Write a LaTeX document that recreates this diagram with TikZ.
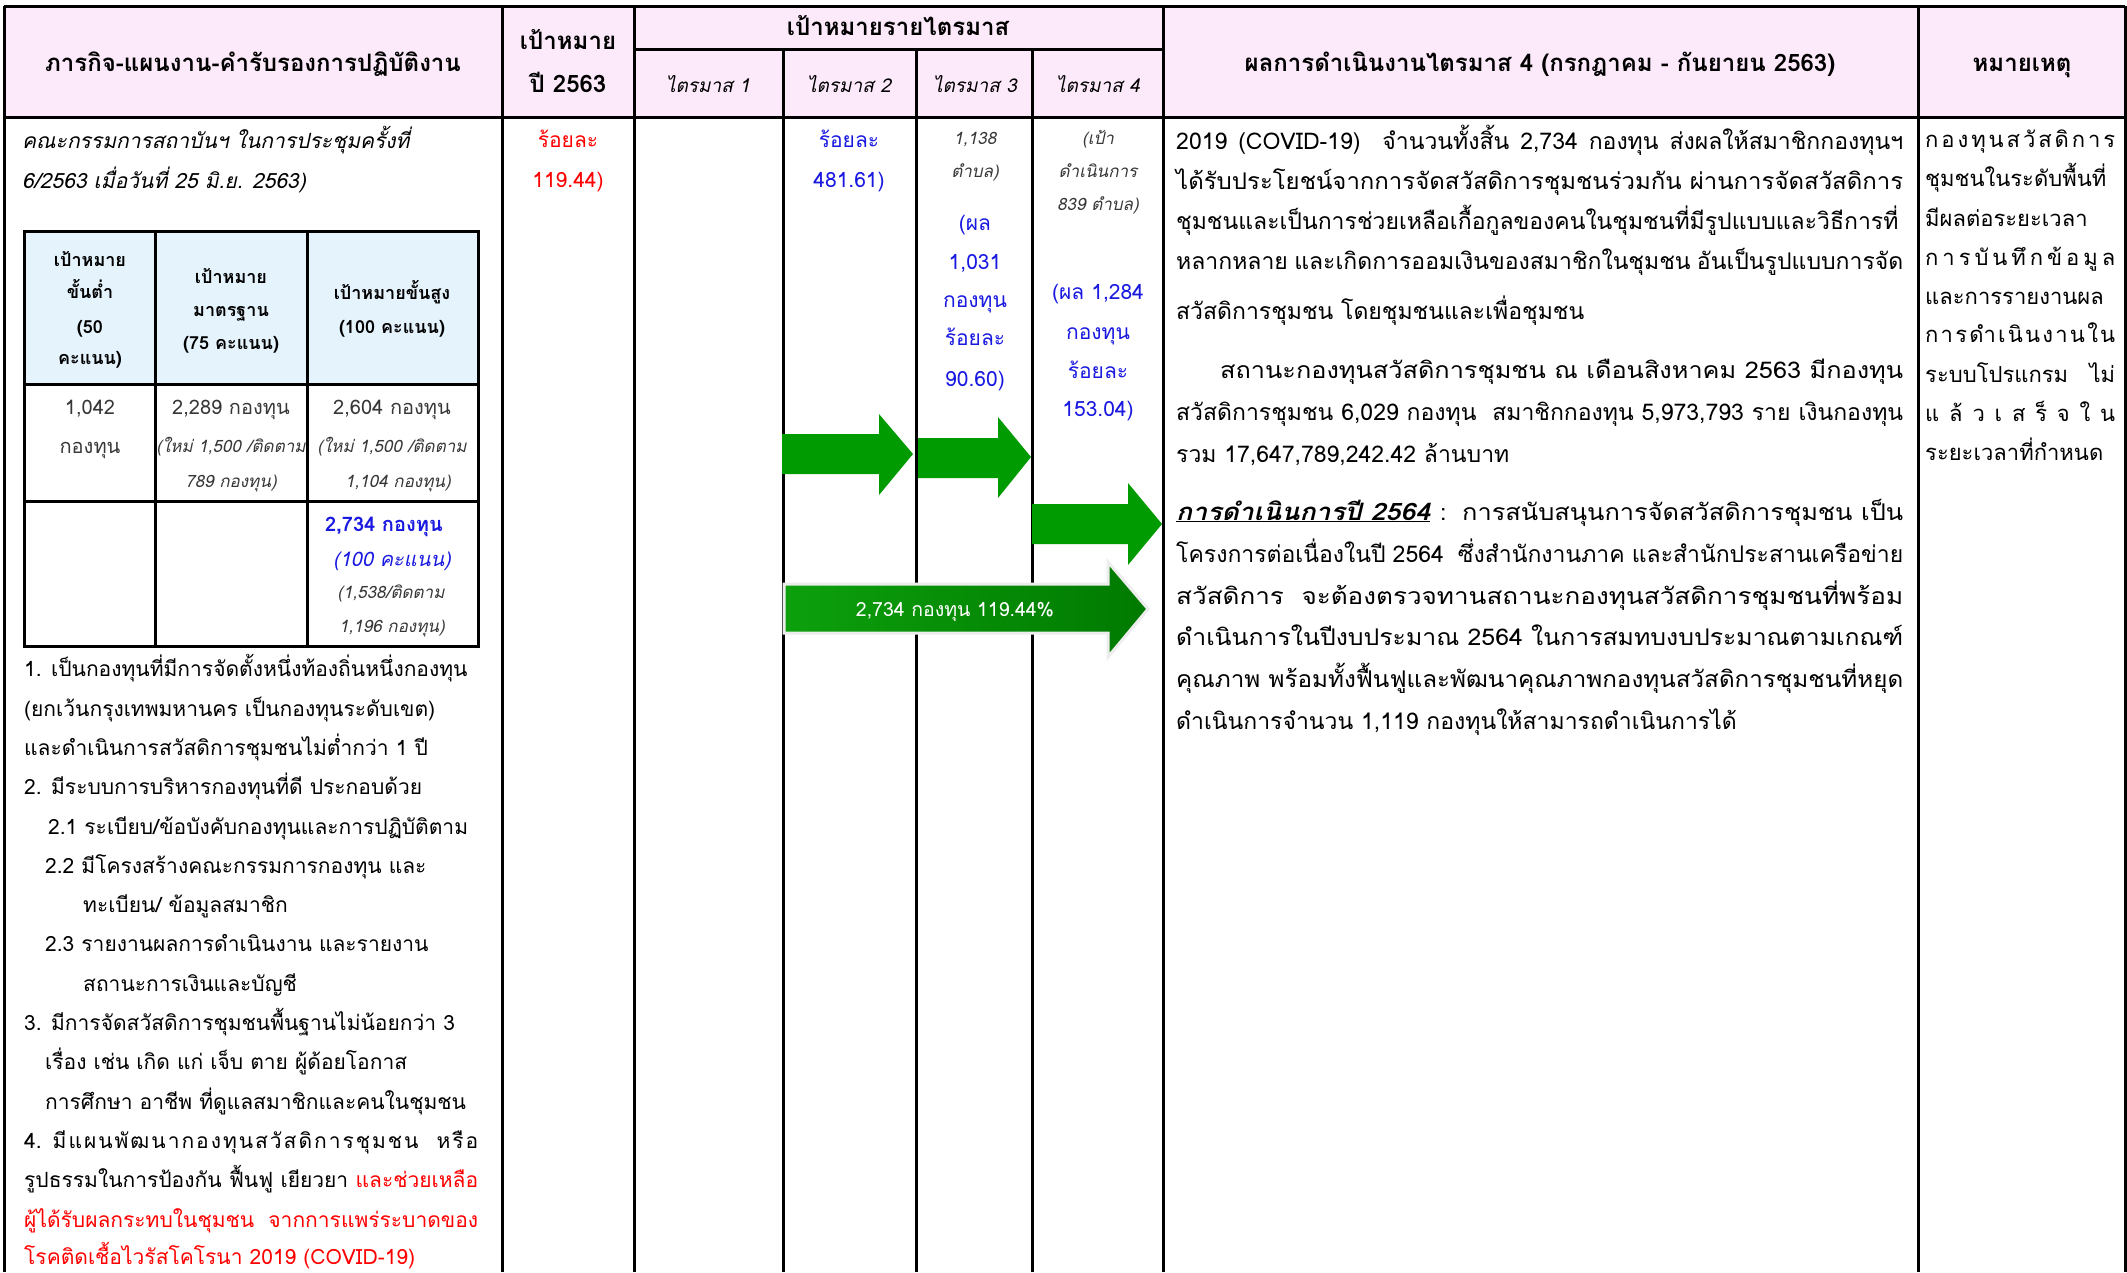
\documentclass[tikz,border=0pt]{standalone}
\usepackage{fontspec}
\usepackage{graphicx}
\setmainfont[Script=Thai]{Loma}
\definecolor{hpink}{RGB}{252,234,250}
\definecolor{hblue}{RGB}{229,243,253}
\definecolor{agreen}{RGB}{0,155,0}
\definecolor{adark}{RGB}{0,122,0}
\definecolor{tblue}{RGB}{25,25,225}
\definecolor{tred}{RGB}{255,0,0}
\definecolor{tgray}{RGB}{55,55,55}
\newcommand\fs[1]{\fontsize{#1}{#1}\selectfont}
\newcommand\jl[2]{\makebox[#1][s]{#2}}
\newcommand\hf{\hfill}
\newcommand\fitw[2]{\resizebox{#1}{\height}{#2}}
\tikzset{
  rule/.style={line width=3pt, black},
  tw/.style={inner sep=0pt, anchor=base west, font=\fs{21}},
  tc/.style={inner sep=0pt, anchor=base, font=\fs{21}},
  hd/.style={inner sep=0pt, anchor=base, font=\fs{24}\bfseries},
  ih/.style={inner sep=0pt, anchor=base, font=\fs{18}\bfseries},
  sm/.style={inner sep=0pt, anchor=base, font=\fs{17}\itshape, text=tgray},
  res/.style={inner sep=0pt, anchor=base west, font=\fs{23}},
  rem/.style={inner sep=0pt, anchor=base west, font=\fs{22}},
  arr/.style={fill=agreen},
}
\begin{document}
\begin{tikzpicture}[x=1pt,y=-1pt]
\useasboundingbox (0,0) rectangle (2127,1272);
\fill[white] (0,0) rectangle (2127,1272);
% header fill
\fill[hpink] (4,6) rectangle (2125,117);
% inner table fills
\fill[hblue] (24,231) rectangle (478,384);
% rules
\draw[rule] (4,6) -- (2125,6);
\draw[rule] (4,117) -- (2125,117);
\draw[rule] (634,49) -- (1163,49);
\foreach \x in {4,502,634,1163,1918,2125} \draw[rule] (\x,6) -- (\x,1272);
\foreach \x in {783,916,1032} \draw[rule] (\x,49) -- (\x,1272);
% inner table
\draw[rule] (24,231) rectangle (478,646);
\draw[rule] (24,384) -- (478,384);
\draw[rule] (24,501) -- (478,501);
\draw[rule] (155,231) -- (155,646);
\draw[rule] (307,231) -- (307,646);

% arrows
\path[arr] (782,434) -- (879,434) -- (879,414) -- (913,454) -- (879,495) -- (879,474) -- (782,474) -- cycle;
\path[arr] (918,438) -- (998,438) -- (998,417) -- (1031,457) -- (998,498) -- (998,478) -- (918,478) -- cycle;
\path[arr] (1032,504) -- (1128,504) -- (1128,483) -- (1162,524) -- (1128,565) -- (1128,544) -- (1032,544) -- cycle;
\draw[draw=black!7, line width=3pt, left color=agreen!95!white, right color=adark]
  (784,584) -- (1108,584) -- (1108,562) -- (1148,609) -- (1108,657) -- (1108,633) -- (784,633) -- cycle;
\node[inner sep=0pt, anchor=base, font=\fs{19.5}, text=white] (bigarrow) at (955,616) {2,734 กองทุน 119.44\%};

% header texts
\node[hd] (h1) at (253,71) {ภารกิจ-แผนงาน-คำรับรองการปฏิบัติงาน};
\node[hd] (h2a) at (568,49) {เป้าหมาย};
\node[hd] (h2b) at (568,92) {ปี 2563};
\node[hd] (h3) at (898,35) {เป้าหมายรายไตรมาส};
\node[tc, font=\fs{19}\itshape] (q1) at (708,92) {ไตรมาส 1};
\node[tc, font=\fs{19}\itshape] (q2) at (849,92) {ไตรมาส 2};
\node[tc, font=\fs{19}\itshape] (q3) at (975,92) {ไตรมาส 3};
\node[tc, font=\fs{19}\itshape] (q4) at (1098,92) {ไตรมาส 4};
\node[hd] (h4) at (1540,71) {ผลการดำเนินงานไตรมาส 4 (กรกฎาคม - กันยายน 2563)};
\node[hd] (h5) at (2022,71) {หมายเหตุ};

% column 1 top
\node[tw, font=\fs{21}\itshape] (c1a) at (22,148) {คณะกรรมการสถาบันฯ ในการประชุมครั้งที่};
\node[tw, font=\fs{21}\itshape] (c1b) at (22,188) {6/2563 เมื่อวันที่ 25 มิ.ย. 2563)};

% inner table header
\node[ih] (i11) at (90,266) {เป้าหมาย};
\node[ih] (i12) at (90,298) {ขั้นต่ำ};
\node[ih] (i13) at (90,333) {(50};
\node[ih] (i14) at (90,364) {คะแนน)};
\node[ih] (i21) at (231,283) {เป้าหมาย};
\node[ih] (i22) at (231,316) {มาตรฐาน};
\node[ih] (i23) at (231,349) {(75 คะแนน)};
\node[ih] (i31) at (392,299) {เป้าหมายขั้นสูง};
\node[ih] (i32) at (392,333) {(100 คะแนน)};
% inner row 2
\node[tc, font=\fs{20}, text=tgray] (r11) at (90,414) {1,042};
\node[tc, font=\fs{20}, text=tgray] (r12) at (90,453) {กองทุน};
\node[tc, font=\fs{20}, text=tgray] (r21) at (231,414) {2,289 กองทุน};
\node[sm] (r22) at (231,452) {(ใหม่ 1,500 /ติดตาม};
\node[sm] (r23) at (231,487) {789 กองทุน)};
\node[tc, font=\fs{20}, text=tgray] (r31) at (392,414) {2,604 กองทุน};
\node[sm] (r32) at (392,452) {(ใหม่ 1,500 /ติดตาม};
\node[sm] (r33) at (398,487) {1,104 กองทุน)};
% inner row 3
\node[tc, font=\fs{20}\bfseries, text=tblue] (s1) at (384,531) {2,734 กองทุน};
\node[tc, font=\fs{20}\itshape, text=tblue] (s2) at (392,566) {(100 คะแนน)};
\node[sm] (s3) at (391,598) {(1,538/ติดตาม};
\node[sm] (s4) at (392,632) {1,196 กองทุน)};

% list
\node[tw] (l1) at (24,676) {1. เป็นกองทุนที่มีการจัดตั้งหนึ่งท้องถิ่นหนึ่งกองทุน};
\node[tw] (l2) at (24,716) {(ยกเว้นกรุงเทพมหานคร เป็นกองทุนระดับเขต)};
\node[tw] (l3) at (24,755) {และดำเนินการสวัสดิการชุมชนไม่ต่ำกว่า 1 ปี};
\node[tw] (l4) at (24,794) {2. มีระบบการบริหารกองทุนที่ดี ประกอบด้วย};
\node[tw] (l5) at (48,834) {2.1 ระเบียบ/ข้อบังคับกองทุนและการปฏิบัติตาม};
\node[tw] (l6) at (45,873) {2.2 มีโครงสร้างคณะกรรมการกองทุน และ};
\node[tw] (l7) at (83,912) {ทะเบียน/ ข้อมูลสมาชิก};
\node[tw] (l8) at (45,951) {2.3 รายงานผลการดำเนินงาน และรายงาน};
\node[tw] (l9) at (83,991) {สถานะการเงินและบัญชี};
\node[tw] (l10) at (24,1030) {3. มีการจัดสวัสดิการชุมชนพื้นฐานไม่น้อยกว่า 3};
\node[tw] (l11) at (45,1069) {เรื่อง เช่น เกิด แก่ เจ็บ ตาย ผู้ด้อยโอกาส};
\node[tw] (l12) at (45,1109) {การศึกษา อาชีพ ที่ดูแลสมาชิกและคนในชุมชน};
\node[tw] (l13) at (24,1148) {\makebox[454pt]{4.\hf\ \hf มี\hf แ\hf ผ\hf น\hf พั\hf ฒ\hf น\hf า\hf ก\hf อ\hf ง\hf ทุ\hf น\hf ส\hf วั\hf ส\hf ดิ\hf ก\hf า\hf ร\hf ชุ\hf ม\hf ช\hf น\hf\ \ \hf ห\hf รื\hf อ}};
\node[tw] (l14) at (24,1187) {\jl{454pt}{รูปธรรมในการป้องกัน ฟื้นฟู เยียวยา \textcolor{tred}{และช่วยเหลือ}}};
\node[tw, text=tred] (l15) at (24,1227) {\jl{454pt}{ผู้ได้รับผลกระทบในชุมชน จากการแพร่ระบาดของ}};
\node[tw, text=tred] (l16) at (24,1264) {โรคติดเชื้อไวรัสโคโรนา 2019 (COVID-19)};

% column 2 and quarters
\node[tc, text=tred] (p1) at (568,147) {ร้อยละ};
\node[tc, text=tred] (p2) at (568,187) {119.44)};
\node[tc, text=tblue] (b1) at (849,147) {ร้อยละ};
\node[tc, text=tblue] (b2) at (849,187) {481.61)};
\node[sm] (t1) at (975,144) {1,138};
\node[sm] (t2) at (975,177) {ตำบล)};
\node[tc, text=tblue] (t3) at (975,230) {(ผล};
\node[tc, text=tblue] (t4) at (975,269) {1,031};
\node[tc, text=tblue] (t5) at (975,307) {กองทุน};
\node[tc, text=tblue] (t6) at (975,345) {ร้อยละ};
\node[tc, text=tblue] (t7) at (975,386) {90.60)};
\node[sm] (f1) at (1098,144) {(เป้า};
\node[sm] (f2) at (1098,177) {ดำเนินการ};
\node[sm] (f3) at (1098,210) {839 ตำบล)};
\node[tc, text=tblue] (f4) at (1098,299) {(ผล 1,284};
\node[tc, text=tblue] (f5) at (1098,339) {กองทุน};
\node[tc, text=tblue] (f6) at (1098,378) {ร้อยละ};
\node[tc, text=tblue] (f7) at (1098,416) {153.04)};

% results
\node[res] (e1) at (1176,149) {\jl{727pt}{2019 (COVID-19)\ \ จำนวนทั้งสิ้น 2,734 กองทุน ส่งผลให้สมาชิกกองทุนฯ}};
\node[res] (e2) at (1176,189) {\fitw{727pt}{ได้รับประโยชน์จากการจัดสวัสดิการชุมชนร่วมกัน ผ่านการจัดสวัสดิการ}};
\node[res] (e3) at (1176,229) {ชุมชนและเป็นการช่วยเหลือเกื้อกูลของคนในชุมชนที่มีรูปแบบและวิธีการที่};
\node[res] (e4) at (1176,269) {\jl{727pt}{หลากหลาย และเกิดการออมเงินของสมาชิกในชุมชน อันเป็นรูปแบบการจัด}};
\node[res] (e5) at (1176,319) {สวัสดิการชุมชน โดยชุมชนและเพื่อชุมชน};
\node[res] (e6) at (1220,378) {\fitw{683pt}{สถานะกองทุนสวัสดิการชุมชน ณ เดือนสิงหาคม 2563 มีกองทุน}};
\node[res] (e7) at (1176,420) {\jl{727pt}{สวัสดิการชุมชน 6,029 กองทุน\ \ สมาชิกกองทุน 5,973,793 ราย เงินกองทุน}};
\node[res] (e8) at (1176,462) {รวม 17,647,789,242.42 ล้านบาท};
\node[res, font=\fs{24}\bfseries\itshape] (e9a) at (1176,520) {\fitw{254pt}{\underline{การดำเนินการปี 2564}}};
\node[res] (e9b) at (1440,520) {:};
\node[res] (e9c) at (1462,520) {\fitw{441pt}{การสนับสนุนการจัดสวัสดิการชุมชน เป็น}};
\node[res] (e10) at (1176,562) {\jl{727pt}{โครงการต่อเนื่องในปี 2564\ \ ซึ่งสำนักงานภาค และสำนักประสานเครือข่าย}};
\node[res] (e11) at (1176,604) {\fitw{727pt}{สวัสดิการ\ \ จะต้องตรวจทานสถานะกองทุนสวัสดิการชุมชนที่พร้อม}};
\node[res] (e12) at (1176,645) {\fitw{727pt}{ดำเนินการในปีงบประมาณ 2564 ในการสมทบงบประมาณตามเกณฑ์}};
\node[res] (e13) at (1176,687) {\fitw{727pt}{คุณภาพ พร้อมทั้งฟื้นฟูและพัฒนาคุณภาพกองทุนสวัสดิการชุมชนที่หยุด}};
\node[res] (e14) at (1176,729) {ดำเนินการจำนวน 1,119 กองทุนให้สามารถดำเนินการได้};

% remarks
\node[rem] (m1) at (1925,147) {\makebox[190pt]{ก\hf อ\hf ง\hf ทุ\hf น\hf ส\hf วั\hf ส\hf ดิ\hf ก\hf า\hf ร}};
\node[rem] (m2) at (1925,186) {ชุมชนในระดับพื้นที่};
\node[rem] (m3) at (1925,226) {มีผลต่อระยะเวลา};
\node[rem] (m4) at (1925,265) {\makebox[190pt]{ก\hf า\hf ร\hf บั\hf น\hf ทึ\hf ก\hf ข้\hf อ\hf มู\hf ล}};
\node[rem] (m5) at (1925,304) {และการรายงานผล};
\node[rem] (m6) at (1925,342) {\makebox[190pt]{ก\hf า\hf ร\hf ดำ\hf เ\hf นิ\hf น\hf ง\hf า\hf น\hf ใ\hf น}};
\node[rem] (m7) at (1925,382) {\jl{190pt}{ระบบโปรแกรม ไม่}};
\node[rem] (m8) at (1925,421) {\makebox[190pt]{แ\hf ล้\hf ว\hf เ\hf ส\hf ร็\hf จ\hf ใ\hf น}};
\node[rem] (m9) at (1925,460) {ระยะเวลาที่กำหนด};
\end{tikzpicture}
\end{document}
